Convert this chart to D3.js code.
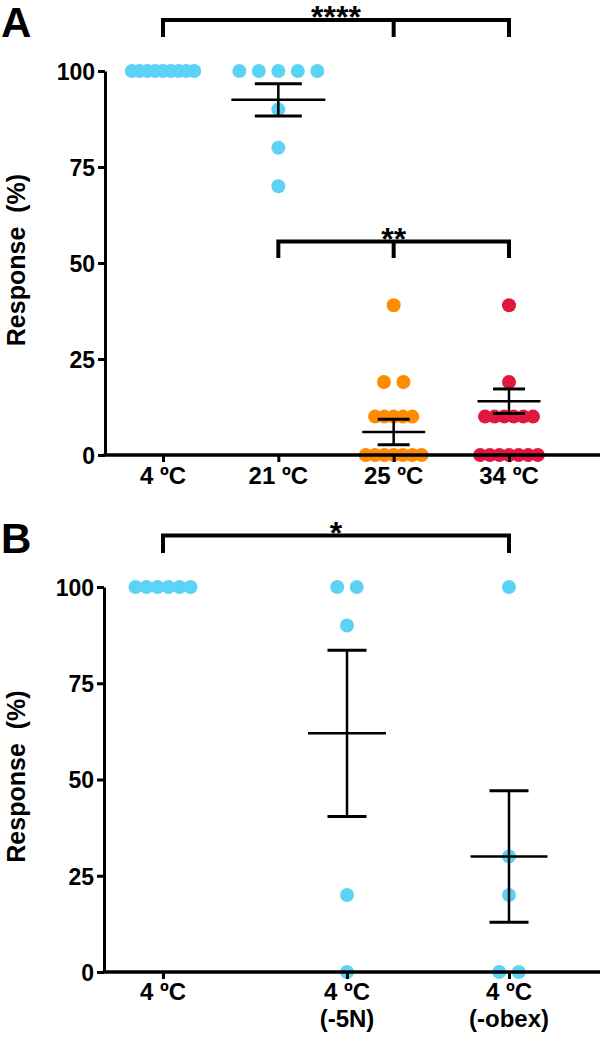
<!DOCTYPE html>
<html><head><meta charset="utf-8">
<script src="https://cdn.jsdelivr.net/npm/d3@7"></script>
<style>
body{margin:0;background:#fff}
svg{display:block}
text{font-family:"Liberation Sans",Arial,Helvetica,sans-serif;font-weight:bold;fill:#000}
</style>
</head><body>
<svg id="chart" width="600" height="1040"></svg>
<script>
// ---------- DATA ----------
// Panel A
const categoriesA = ["4 ºC", "21 ºC", "25 ºC", "34 ºC"];
const valuesA_4C  = [100, 100, 100, 100, 100, 100, 100, 100, 100];
const valuesA_21C = [100, 100, 100, 100, 100, 90, 80, 70];
const valuesA_25C = [39, 19, 19, 10, 10, 10, 10, 10, 0, 0, 0, 0, 0, 0, 0];
const valuesA_34C = [39, 19, 10, 10, 10, 10, 10, 10, 0, 0, 0, 0, 0, 0, 0];
const meansA = [null, 92.5, 6.0, 14.0];
const semsA  = [null, 4.2, 3.3, 3.2];
const comparisonsA = [
  {from: "4 ºC",  to: "34 ºC", mid: "25 ºC", label: "****"},
  {from: "21 ºC", to: "34 ºC", mid: "25 ºC", label: "**"}
];
// Panel B
const categoriesB = ["4 ºC", "4 ºC (-5N)", "4 ºC (-obex)"];
const tickLabelsB = [["4 ºC"], ["4 ºC", "(-5N)"], ["4 ºC", "(-obex)"]];
const valuesB_4C   = [100, 100, 100, 100, 100, 100];
const valuesB_5N   = [100, 100, 90, 20, 0];
const valuesB_obex = [100, 30, 20, 0, 0];
const meansB = [null, 62, 30];
const semsB  = [null, 21.6, 17.1];
const comparisonsB = [
  {from: "4 ºC", to: "4 ºC (-obex)", mid: null, label: "*"}
];
const yTicks = [0, 25, 50, 75, 100];
const yTitle = "Response";
const yUnit = "(%)";

// ---------- STYLE / LAYOUT ----------
const CYAN = "#5cd3f5", ORANGE = "#ff8b00", RED = "#e2173e";
const R = 7, FULL_GAP = 19.5, CAP_W = 60;

const svg = d3.select("#chart");

function drawPanel(cfg) {
  const g = svg.append("g");
  const y = d3.scaleLinear().domain([0, 100]).range([cfg.yBottom, cfg.yTop]);
  const x = cfg.xScale;

  // panel letter
  g.append("text").attr("x", 1).attr("y", cfg.letterY)
    .style("font-size", "42px").text(cfg.letter);

  // y title
  const ty = y(50) - 3;
  const t = g.append("text")
    .attr("transform", `translate(25,${ty}) rotate(-90)`)
    .attr("text-anchor", "middle").style("font-size", "25px");
  t.append("tspan").text(yTitle);
  t.append("tspan").attr("dx", 14).text(yUnit);

  // points
  cfg.series.forEach((vals, ci) => {
    const cat = cfg.categories[ci];
    const groups = d3.groups(vals, v => v);
    const pts = [];
    groups.forEach(([v, arr]) => {
      const n = arr.length;
      let gap = FULL_GAP;
      if (cfg.dense[ci] != null && n * 19 > CAP_W) gap = cfg.dense[ci];
      arr.forEach((_, i) => pts.push({v, off: (i - (n - 1) / 2) * gap}));
    });
    g.selectAll(null).data(pts).enter().append("circle")
      .attr("cx", d => x(cat) + d.off)
      .attr("cy", d => y(d.v))
      .attr("r", R)
      .attr("fill", cfg.colors[ci]);
  });

  // mean +/- SEM
  cfg.means.forEach((m, ci) => {
    if (m == null) return;
    const s = cfg.sems[ci], cx = x(cfg.categories[ci]);
    const mw = cfg.meanHalf[ci], cw = cfg.capHalf[ci];
    const eb = g.append("g").attr("stroke", "#000").attr("fill", "none");
    eb.append("line").attr("x1", cx).attr("x2", cx)
      .attr("y1", y(m + s)).attr("y2", y(m - s)).attr("stroke-width", 2.5);
    eb.append("line").attr("x1", cx - mw).attr("x2", cx + mw)
      .attr("y1", y(m)).attr("y2", y(m)).attr("stroke-width", 2.5);
    [m + s, m - s].forEach(v => eb.append("line")
      .attr("x1", cx - cw).attr("x2", cx + cw)
      .attr("y1", y(v)).attr("y2", y(v)).attr("stroke-width", 3));
  });

  // y axis
  const ya = g.append("g").attr("transform", `translate(${cfg.axisX},0)`)
    .call(d3.axisLeft(y).tickValues(yTicks).tickSize(7).tickSizeOuter(0).tickPadding(3));
  ya.select(".domain").attr("stroke-width", 3);
  ya.selectAll(".tick line").attr("stroke-width", 3);
  ya.selectAll(".tick text").style("font-size", "23px").attr("dy", "0.36em");

  // x axis
  const xa = g.append("g").attr("transform", `translate(0,${cfg.yBottom})`)
    .call(d3.axisBottom(x).tickSize(7).tickSizeOuter(0).tickFormat(""));
  xa.select(".domain").remove();
  xa.selectAll(".tick line").attr("stroke-width", 3);
  g.append("line").attr("x1", cfg.axisX - 1.5).attr("x2", 600)
    .attr("y1", cfg.yBottom).attr("y2", cfg.yBottom)
    .attr("stroke", "#000").attr("stroke-width", 3.5);
  cfg.categories.forEach((c, ci) => {
    cfg.tickLabels[ci].forEach((line, li) => {
      g.append("text").attr("text-anchor", "middle").style("font-size", "24px")
        .attr("x", x(c)).attr("y", cfg.labelY + li * cfg.lineGap).text(line);
    });
  });

  // significance brackets
  cfg.comparisons.forEach((cmp, k) => {
    const L = cfg.bracketLayout[k];
    const x1 = x(cmp.from), x2 = x(cmp.to);
    const b = g.append("g").attr("stroke", "#000").attr("stroke-width", 4)
      .attr("fill", "none").attr("stroke-linejoin", "miter");
    b.append("path").attr("d", `M${x1},${L.y + L.drop}V${L.y}H${x2}V${L.y + L.drop}`);
    if (cmp.mid) b.append("path").attr("d", `M${x(cmp.mid)},${L.y}V${L.y + L.drop}`);
    const lx = L.labelAt === "mid" ? x(cmp.mid) : (x1 + x2) / 2;
    g.append("text").attr("x", lx).attr("y", L.labelBaseline)
      .attr("text-anchor", "middle").style("font-size", "32px").text(cmp.label);
  });
}

drawPanel({
  letter: "A", letterY: 37,
  categories: categoriesA,
  tickLabels: categoriesA.map(c => [c]),
  series: [valuesA_4C, valuesA_21C, valuesA_25C, valuesA_34C],
  means: meansA, sems: semsA,
  colors: [CYAN, CYAN, ORANGE, RED],
  dense: [7.8, null, 9.3, 9.6],
  meanHalf: [0, 47, 31.5, 31.5], capHalf: [0, 23.5, 16, 16],
  yTop: 71, yBottom: 455, axisX: 105, labelY: 484, lineGap: 27,
  xScale: d3.scalePoint().domain(categoriesA).range([163, 509]),
  comparisons: comparisonsA,
  bracketLayout: [
    {y: 20, drop: 17, labelAt: "center", labelBaseline: 28},
    {y: 241.5, drop: 16.5, labelAt: "mid", labelBaseline: 250}
  ]
});

drawPanel({
  letter: "B", letterY: 553,
  categories: categoriesB,
  tickLabels: tickLabelsB,
  series: [valuesB_4C, valuesB_5N, valuesB_obex],
  means: meansB, sems: semsB,
  colors: [CYAN, CYAN, CYAN],
  dense: [11, 9.5, 9.5],
  meanHalf: [0, 39, 38.5], capHalf: [0, 19.5, 19.5],
  yTop: 587, yBottom: 972, axisX: 104, labelY: 1000, lineGap: 27,
  xScale: d3.scaleOrdinal().domain(categoriesB).range([163, 347, 509]),
  comparisons: comparisonsB,
  bracketLayout: [
    {y: 535.5, drop: 17.5, labelAt: "center", labelBaseline: 544}
  ]
});
</script>
</body></html>
